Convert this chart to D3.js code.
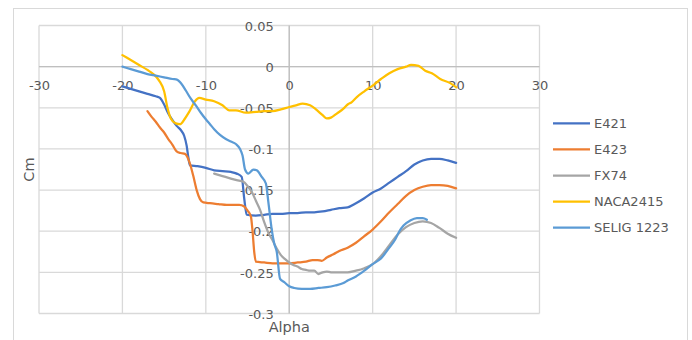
<!DOCTYPE html>
<html>
<head>
<meta charset="utf-8">
<script src="https://cdn.jsdelivr.net/npm/d3@7"></script>
<style>
  html, body { margin: 0; padding: 0; background: #fff; }
  svg { display: block; }
  text { font-family: "DejaVu Sans", sans-serif; fill: #595959; }
</style>
</head>
<body>
<svg id="chart" width="692" height="340"></svg>
<script>
// Pitching-moment coefficient vs angle of attack, [alpha (deg), Cm]
const e421 = [
  [-20,-0.024],[-19,-0.027],[-18,-0.030],[-17,-0.033],[-16,-0.036],[-15.5,-0.038],
  [-15,-0.046],[-14.5,-0.057],[-14,-0.065],[-13.5,-0.072],[-13,-0.077],[-12.6,-0.084],
  [-12.3,-0.096],[-12.1,-0.110],[-11.9,-0.120],[-11,-0.121],[-10,-0.123],[-9,-0.126],
  [-8,-0.127],[-7,-0.128],[-6.3,-0.130],[-5.7,-0.134],[-5.4,-0.160],[-5.1,-0.180],
  [-4,-0.181],[-3,-0.180],[-2,-0.179],[-1,-0.179],[0,-0.178],[1,-0.178],[2,-0.177],
  [3,-0.177],[4,-0.176],[5,-0.174],[6,-0.172],[7,-0.171],[8,-0.166],[9,-0.160],
  [10,-0.153],[11,-0.148],[12,-0.141],[13,-0.134],[14,-0.127],[15,-0.119],[16,-0.114],
  [17,-0.112],[18,-0.112],[19,-0.114],[20,-0.117]
];
const e423 = [
  [-17,-0.054],[-16.5,-0.061],[-16,-0.067],[-15.5,-0.074],[-15,-0.080],[-14.5,-0.088],
  [-14,-0.095],[-13.5,-0.103],[-13,-0.105],[-12.5,-0.106],[-12.2,-0.110],[-11.9,-0.118],
  [-11.5,-0.133],[-11.1,-0.150],[-10.7,-0.161],[-10.3,-0.165],[-9.5,-0.166],[-8.5,-0.167],
  [-7.5,-0.168],[-6.7,-0.168],[-6,-0.168],[-5.4,-0.170],[-5,-0.175],[-4.6,-0.182],
  [-4.4,-0.200],[-4.2,-0.225],[-4.0,-0.237],[-3,-0.238],[-2,-0.239],[-1,-0.239],
  [0,-0.239],[1,-0.238],[2,-0.237],[2.8,-0.235],[3.4,-0.235],[3.9,-0.236],[4.5,-0.232],
  [5.3,-0.228],[6,-0.224],[7,-0.220],[8,-0.214],[9,-0.206],[10,-0.198],[11,-0.188],
  [12,-0.177],[13,-0.167],[14,-0.157],[15,-0.150],[16,-0.146],[17,-0.144],[18,-0.144],
  [19,-0.145],[20,-0.148]
];
const fx74 = [
  [-9,-0.130],[-8,-0.133],[-7,-0.136],[-6.3,-0.138],[-5.5,-0.140],[-5,-0.145],
  [-4.5,-0.152],[-4,-0.163],[-3.5,-0.174],[-3,-0.189],[-2.5,-0.202],[-2,-0.211],
  [-1.5,-0.221],[-1,-0.229],[-0.5,-0.234],[0,-0.238],[0.5,-0.241],[1,-0.243],
  [1.5,-0.246],[2,-0.247],[2.5,-0.248],[3,-0.248],[3.5,-0.252],[4,-0.250],[4.5,-0.249],
  [5,-0.250],[6,-0.250],[7,-0.250],[8,-0.248],[9,-0.245],[10,-0.240],[11,-0.230],
  [12,-0.217],[13,-0.204],[14,-0.195],[15,-0.190],[16,-0.188],[17,-0.190],[18,-0.196],
  [19,-0.203],[20,-0.208]
];
const naca2415 = [
  [-20,0.014],[-19,0.008],[-18,0.002],[-17,-0.004],[-16.3,-0.009],[-15.6,-0.017],
  [-15,-0.030],[-14.6,-0.050],[-14.2,-0.063],[-13.6,-0.069],[-13.1,-0.070],[-12.5,-0.063],
  [-12,-0.055],[-11.3,-0.042],[-10.8,-0.038],[-10,-0.040],[-9,-0.042],[-8,-0.047],
  [-7.2,-0.053],[-6.4,-0.053],[-5.2,-0.056],[-4,-0.055],[-3,-0.054],[-2,-0.054],
  [-1,-0.052],[0,-0.049],[0.8,-0.047],[1.6,-0.045],[2.5,-0.047],[3.2,-0.052],[4,-0.059],
  [4.5,-0.063],[5,-0.062],[5.7,-0.057],[6.5,-0.051],[7,-0.046],[7.5,-0.043],[8.1,-0.037],
  [9,-0.030],[10,-0.023],[11,-0.015],[12,-0.008],[13,-0.003],[14,0.000],[14.6,0.002],
  [15.5,0.001],[16.3,-0.005],[17.1,-0.008],[18.1,-0.015],[19.3,-0.020],[20,-0.025]
];
const selig1223 = [
  [-20,0.000],[-19,-0.003],[-18,-0.006],[-17,-0.009],[-16,-0.011],[-15,-0.013],
  [-14,-0.015],[-13.4,-0.016],[-13,-0.020],[-12.4,-0.029],[-11.8,-0.039],[-11.2,-0.047],
  [-10.6,-0.056],[-10,-0.064],[-9.5,-0.070],[-9,-0.076],[-8.3,-0.083],[-7.6,-0.088],
  [-7,-0.091],[-6.4,-0.094],[-5.9,-0.100],[-5.6,-0.108],[-5.3,-0.125],[-4.9,-0.130],
  [-4.3,-0.125],[-3.9,-0.126],[-3.3,-0.134],[-2.8,-0.142],[-2.5,-0.165],[-2.1,-0.198],
  [-1.8,-0.215],[-1.5,-0.225],[-1.1,-0.258],[-0.6,-0.262],[0,-0.267],[0.6,-0.269],
  [1.5,-0.270],[2.5,-0.270],[3.5,-0.269],[4.5,-0.268],[5.5,-0.266],[6.5,-0.263],
  [7,-0.260],[8,-0.255],[9,-0.248],[10,-0.240],[11,-0.233],[12,-0.220],[12.7,-0.210],
  [13.2,-0.200],[13.7,-0.193],[14.5,-0.187],[15.3,-0.184],[16,-0.184],[16.5,-0.186]
];

const seriesNames = ["E421", "E423", "FX74", "NACA2415", "SELIG 1223"];
const seriesData = [e421, e423, fx74, naca2415, selig1223];
const seriesColors = ["#4472C4", "#ED7D31", "#A5A5A5", "#FFC000", "#5B9BD5"];

const xTicks = [-30, -20, -10, 0, 10, 20, 30];
const xTickLabels = ["-30", "-20", "-10", "0", "10", "20", "30"];
const yTicks = [0.05, 0, -0.05, -0.1, -0.15, -0.2, -0.25, -0.3];
const yTickLabels = ["0.05", "0", "-0.05", "-0.1", "-0.15", "-0.2", "-0.25", "-0.3"];

const svg = d3.select("#chart");

// chart frame
svg.append("rect")
  .attr("x", 13.5).attr("y", 8.5).attr("width", 674).attr("height", 340)
  .attr("fill", "#fff").attr("stroke", "#d9d9d9").attr("stroke-width", 1);

const plot = { left: 39, right: 539.5, top: 25.5, bottom: 313.5 };
const x = d3.scaleLinear().domain([-30, 30]).range([plot.left, plot.right]);
const y = d3.scaleLinear().domain([0.05, -0.3]).range([plot.top, plot.bottom]);

// gridlines
const grid = svg.append("g").attr("stroke", "#d9d9d9").attr("stroke-width", 1.3);
grid.selectAll("line.v").data(xTicks).join("line")
  .attr("x1", d => x(d)).attr("x2", d => x(d))
  .attr("y1", plot.top).attr("y2", plot.bottom);
grid.selectAll("line.h").data(yTicks).join("line")
  .attr("x1", plot.left).attr("x2", plot.right)
  .attr("y1", d => y(d)).attr("y2", d => y(d));

// zero axes
svg.append("line")
  .attr("x1", plot.left).attr("x2", plot.right).attr("y1", y(0)).attr("y2", y(0))
  .attr("stroke", "#bfbfbf").attr("stroke-width", 1.3);
svg.append("line")
  .attr("x1", x(0)).attr("x2", x(0)).attr("y1", plot.top).attr("y2", plot.bottom)
  .attr("stroke", "#bfbfbf").attr("stroke-width", 1.3);

// tick labels via d3 axes anchored on the zero lines
const xAxis = d3.axisBottom(x).tickValues(xTicks)
  .tickFormat((d, i) => xTickLabels[i]).tickSize(0).tickPadding(0);
const gx = svg.append("g").attr("transform", `translate(0,${y(0)})`).call(xAxis);
gx.select(".domain").remove();
gx.selectAll("text").attr("y", 18.7).attr("dy", "0.36em")
  .attr("font-size", 13).attr("font-family", "DejaVu Sans").attr("fill", "#595959");

const yAxis = d3.axisLeft(y).tickValues(yTicks)
  .tickFormat((d, i) => yTickLabels[i]).tickSize(0).tickPadding(15.5);
const gy = svg.append("g").attr("transform", `translate(${x(0)},0)`).call(yAxis);
gy.select(".domain").remove();
gy.selectAll("text").attr("dy", "0.36em")
  .attr("font-size", 13).attr("font-family", "DejaVu Sans").attr("fill", "#595959");

// series lines
const line = d3.line()
  .x(d => x(d[0])).y(d => y(d[1]))
  .curve(d3.curveMonotoneX);
svg.append("g").selectAll("path").data(seriesData).join("path")
  .attr("d", line)
  .attr("fill", "none")
  .attr("stroke", (d, i) => seriesColors[i])
  .attr("stroke-width", 2.25)
  .attr("stroke-linejoin", "round")
  .attr("stroke-linecap", "round");

// axis titles
svg.append("text")
  .attr("x", x(0)).attr("y", 327).attr("dy", "0.36em")
  .attr("text-anchor", "middle").attr("font-size", 14.5)
  .text("Alpha");
svg.append("text")
  .attr("transform", `translate(29,${(plot.top + plot.bottom) / 2}) rotate(-90)`)
  .attr("dy", "0.36em")
  .attr("text-anchor", "middle").attr("font-size", 14.5)
  .text("Cm");

// legend
const legend = svg.append("g").attr("transform", "translate(553,123.3)");
const item = legend.selectAll("g").data(seriesNames).join("g")
  .attr("transform", (d, i) => `translate(0,${i * 26.1})`);
item.append("line")
  .attr("x1", 0).attr("x2", 37).attr("y1", 0).attr("y2", 0)
  .attr("stroke", (d, i) => seriesColors[i]).attr("stroke-width", 2.25);
item.append("text")
  .attr("x", 41).attr("y", 0).attr("dy", "0.36em")
  .attr("font-size", 13)
  .text(d => d);
</script>
</body>
</html>
